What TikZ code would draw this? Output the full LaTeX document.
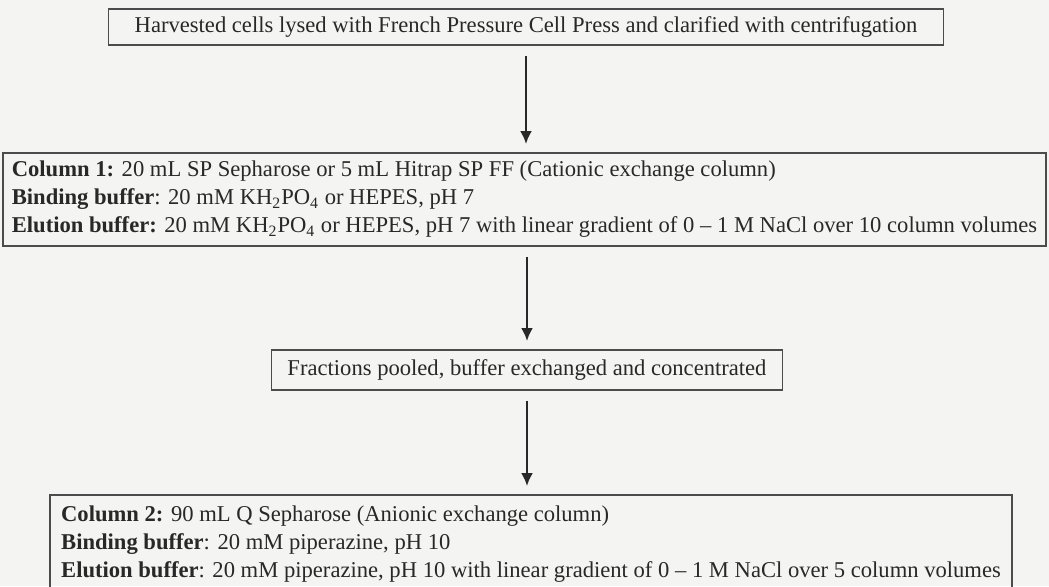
\documentclass[tikz,border=0pt]{standalone}
\usepackage{fontspec}
\setmainfont{Liberation Serif}
\usetikzlibrary{arrows.meta}
\definecolor{scanbg}{RGB}{244,244,242}
\definecolor{inkgray}{RGB}{40,40,40}

\begin{document}
\begin{tikzpicture}[x=0.5pt,y=-0.5pt,
    stepbox/.style={draw=black!70,line width=0.9pt,inner sep=3pt,
      text=inkgray,align=left,font=\fontsize{11.3}{14}\selectfont},
    flow/.style={-{Latex[length=6.5pt,width=6pt]},line width=1.3pt,
      draw=inkgray,shorten <=5pt,shorten >=4pt}]

  \clip (0,0) rectangle (1049,586);
  \fill[scanbg] (0,0) rectangle (1049,586);

  \node [stepbox,minimum width=417.5pt,minimum height=18pt] (harvest) at (526,27)
    {Harvested cells lysed with French Pressure Cell Press and clarified with centrifugation};
  \node [stepbox,minimum width=521.5pt,minimum height=46.5pt] (column1) at (524.5,199.5)
    {\textbf{Column 1:} 20 mL SP Sepharose or 5 mL Hitrap SP FF (Cationic exchange column)\\
     \textbf{Binding buffer}: 20 mM KH\textsubscript{2}PO\textsubscript{4} or HEPES, pH 7\\
     \textbf{Elution buffer:} 20 mM KH\textsubscript{2}PO\textsubscript{4} or HEPES, pH 7 with linear gradient of 0 -- 1 M NaCl over 10 column volumes};
  \node [stepbox,minimum width=255.5pt,minimum height=20pt] (pooled) at (527,370)
    {Fractions pooled, buffer exchanged and concentrated};
  \node [stepbox,minimum width=481pt,minimum height=49pt] (column2) at (531,544)
    {\textbf{Column 2:} 90 mL Q Sepharose (Anionic exchange column)\\
     \textbf{Binding buffer}: 20 mM piperazine, pH 10\\
     \textbf{Elution buffer}: 20 mM piperazine, pH 10 with linear gradient of 0 -- 1 M NaCl over 5 column volumes};

  \draw [flow] (harvest.south) -- (harvest.south |- column1.north);
  \draw [flow] (pooled.north |- column1.south) -- (pooled.north);
  \draw [flow] (pooled.south) -- (pooled.south |- column2.north);
\end{tikzpicture}
\end{document}
